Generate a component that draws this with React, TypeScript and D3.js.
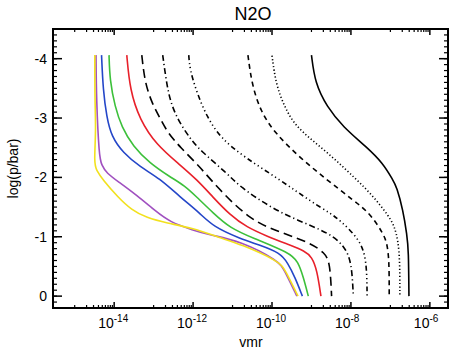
import React from "react";
import * as d3 from "d3";

const width = 463;
const height = 356;
const plot = { left: 53, right: 448, top: 29, bottom: 308 };

// axis values
const yTicks = [0, -1, -2, -3, -4];
const xTickExps = [-14, -12, -10, -8, -6];
const xDomainExp = [-15.55, -5.54];
const yDomain = [0.2, -4.5];

// curves: [log(p/bar), log10(vmr)]
const yellow = [
  [-4.06, -14.49], [-3.3, -14.49], [-2.8, -14.46], [-2.24, -14.51], [-2.12, -14.45],
  [-1.96, -14.29], [-1.67, -13.91], [-1.45, -13.56], [-1.32, -13.18], [-1.23, -12.67],
  [-1.15, -12.01], [-0.98, -11.32], [-0.88, -10.81], [-0.58, -9.8], [-0.44, -9.67], [0, -9.34]
];
const purple = [
  [-4.06, -14.46], [-3.3, -14.45], [-2.35, -14.38], [-2.21, -14.32], [-2.07, -14.19],
  [-1.93, -13.9], [-1.7, -13.43], [-1.42, -12.93], [-1.25, -12.59], [-1.11, -12.0],
  [-1.03, -11.57], [-0.93, -10.81], [-0.59, -9.82], [-0.44, -9.69], [0, -9.37]
];
const blue = [
  [-4.06, -14.32], [-3.47, -14.28], [-3.02, -14.19], [-2.69, -14.07], [-2.41, -13.77],
  [-2.18, -13.35], [-1.98, -12.84], [-1.67, -12.33], [-1.4, -11.83], [-1.17, -11.49],
  [-0.97, -10.81], [-0.86, -10.31], [-0.73, -9.8], [-0.56, -9.6], [-0.32, -9.42], [0, -9.23]
];
const green = [
  [-4.06, -14.13], [-3.64, -14.11], [-3.19, -13.98], [-2.85, -13.81], [-2.52, -13.52],
  [-2.24, -13.1], [-2.01, -12.59], [-1.86, -12.21], [-1.67, -11.91], [-1.4, -11.49],
  [-1.15, -11.07], [-0.98, -10.49], [-0.73, -9.55], [-0.58, -9.34], [-0.33, -9.21], [0, -9.08]
];
const red = [
  [-4.06, -13.68], [-3.47, -13.6], [-2.97, -13.35], [-2.55, -12.93], [-2.21, -12.33],
  [-1.96, -11.9], [-1.67, -11.5], [-1.37, -11.07], [-1.16, -10.64], [-1.01, -10.13],
  [-0.86, -9.55], [-0.76, -9.17], [-0.66, -8.99], [-0.44, -8.86], [0, -8.76]
];
const longDash = [
  [-4.06, -13.3], [-3.59, -13.22], [-3.25, -13.04], [-3.0, -12.84], [-2.75, -12.64],
  [-2.51, -12.33], [-2.18, -11.83], [-1.84, -11.4], [-1.28, -10.56], [-1.08, -9.8],
  [-0.9, -9.04], [-0.73, -8.66], [-0.56, -8.53], [0, -8.49]
];
const dashDot = [
  [-4.06, -12.77], [-3.67, -12.69], [-3.3, -12.59], [-2.97, -12.39], [-2.66, -12.08],
  [-2.46, -11.83], [-2.07, -11.14], [-1.84, -10.81], [-1.5, -10.05], [-1.28, -9.37],
  [-1.06, -8.53], [-0.83, -8.15], [-0.56, -7.98], [0, -7.94]
];
const dashDot3 = [
  [-4.06, -12.11], [-3.81, -12.08], [-3.42, -11.9], [-3.02, -11.65], [-2.66, -11.3],
  [-2.34, -10.7], [-1.96, -9.8], [-1.57, -8.96], [-1.4, -8.53], [-1.28, -8.28],
  [-0.95, -7.77], [-0.61, -7.6], [0, -7.59]
];
const dashed = [
  [-4.06, -10.61], [-3.56, -10.51], [-3.1, -10.28], [-2.75, -9.93], [-2.33, -9.29],
  [-1.96, -8.61], [-1.62, -7.95], [-1.4, -7.52], [-1.06, -7.19], [-0.91, -7.09],
  [-0.61, -7.03], [0, -7.03]
];
const dotted = [
  [-4.05, -10.0], [-3.56, -9.9], [-3.17, -9.67], [-2.88, -9.42], [-2.63, -8.99],
  [-2.34, -8.46], [-2.07, -8.03], [-1.75, -7.52], [-1.33, -7.01], [-1.15, -6.89],
  [-0.95, -6.81], [-0.61, -6.76], [0, -6.76]
];
const solid = [
  [-4.06, -9.0], [-3.59, -8.91], [-3.19, -8.61], [-2.85, -8.2], [-2.51, -7.6],
  [-2.24, -7.19], [-1.96, -6.94], [-1.84, -6.84], [-1.45, -6.68], [-1.03, -6.58],
  [-0.78, -6.54], [0, -6.53]
];

const curves = [
  { data: solid, color: "#000", dash: null },
  { data: dotted, color: "#000", dash: "1.2,2.3" },
  { data: dashed, color: "#000", dash: "5,4" },
  { data: dashDot3, color: "#000", dash: "5,3,1.2,3,1.2,3,1.2,3" },
  { data: dashDot, color: "#000", dash: "6,3,1.2,3" },
  { data: longDash, color: "#000", dash: "9,5" },
  { data: red, color: "#e8202a", dash: null },
  { data: green, color: "#3cc03a", dash: null },
  { data: blue, color: "#2446c8", dash: null },
  { data: purple, color: "#a050c0", dash: null },
  { data: yellow, color: "#f2e11e", dash: null }
];

const font = "'Liberation Sans', Arial, Helvetica, sans-serif";

export default function App() {
  const x = d3
    .scaleLog()
    .domain(xDomainExp.map(e => Math.pow(10, e)))
    .range([plot.left, plot.right]);
  const y = d3.scaleLinear().domain(yDomain).range([plot.bottom, plot.top]);

  const line = d3
    .line<number[]>()
    .x(d => x(Math.pow(10, d[1])))
    .y(d => y(d[0]))
    .curve(d3.curveBasis);

  // minor ticks
  const yMinor = d3.range(-45, 3).map(i => i / 10);
  const xMinor: number[] = [];
  for (let k = -16; k <= -6; k += 2) {
    for (let m = 1; m <= 9; m++) {
      const v = m * Math.pow(10, k + 1);
      const [a, b] = x.domain();
      if (v >= a && v <= b) xMinor.push(v);
    }
  }

  return (
    <div style={{ position: "absolute", left: 0, top: 0 }}>
      <svg width={width} height={height} style={{ display: "block", background: "#fff" }}>
        <defs>
          <clipPath id="plotclip">
            <rect x={plot.left} y={plot.top} width={plot.right - plot.left} height={plot.bottom - plot.top} />
          </clipPath>
        </defs>
        <text x={253} y={20} textAnchor="middle" fontFamily={font} fontSize={18}>
          N2O
        </text>

        <g clipPath="url(#plotclip)">
          {curves.map((c, i) => (
            <path
              key={i}
              d={line(c.data as number[][]) || ""}
              fill="none"
              stroke={c.color}
              strokeWidth={1.6}
              strokeDasharray={c.dash || undefined}
            />
          ))}
        </g>

        {/* y ticks */}
        {yMinor.map(v => {
          const yy = y(v);
          if (yy < plot.top || yy > plot.bottom) return null;
          return (
            <g key={"ym" + v}>
              <line x1={plot.left} x2={plot.left + 4} y1={yy} y2={yy} stroke="#000" strokeWidth={1.2} />
              <line x1={plot.right} x2={plot.right - 4} y1={yy} y2={yy} stroke="#000" strokeWidth={1.2} />
            </g>
          );
        })}
        {yTicks.map(v => (
          <g key={"y" + v}>
            <line x1={plot.left} x2={plot.left + 9} y1={y(v)} y2={y(v)} stroke="#000" strokeWidth={1.5} />
            <line x1={plot.right} x2={plot.right - 9} y1={y(v)} y2={y(v)} stroke="#000" strokeWidth={1.5} />
            <text x={47} y={y(v) + 5} textAnchor="end" fontFamily={font} fontSize={14}>
              {v === 0 ? "0" : "-" + Math.abs(v)}
            </text>
          </g>
        ))}

        {/* x ticks */}
        {xMinor.map((v, i) => (
          <g key={"xm" + i}>
            <line x1={x(v)} x2={x(v)} y1={plot.bottom} y2={plot.bottom - 3} stroke="#000" strokeWidth={1.2} />
            <line x1={x(v)} x2={x(v)} y1={plot.top} y2={plot.top + 3} stroke="#000" strokeWidth={1.2} />
          </g>
        ))}
        {xTickExps.map(e => {
          const xx = x(Math.pow(10, e));
          return (
            <g key={"x" + e}>
              <line x1={xx} x2={xx} y1={plot.bottom} y2={plot.bottom - 6} stroke="#000" strokeWidth={1.5} />
              <line x1={xx} x2={xx} y1={plot.top} y2={plot.top + 6} stroke="#000" strokeWidth={1.5} />
              <text x={xx - 16} y={328} fontFamily={font} fontSize={14}>
                10
                <tspan dy={-6} fontSize={10}>
                  {"-" + Math.abs(e)}
                </tspan>
              </text>
            </g>
          );
        })}

        <rect
          x={plot.left}
          y={plot.top}
          width={plot.right - plot.left}
          height={plot.bottom - plot.top}
          fill="none"
          stroke="#000"
          strokeWidth={2}
        />

        <text x={251} y={347} textAnchor="middle" fontFamily={font} fontSize={14}>
          vmr
        </text>
        <text
          transform={`translate(18, ${(plot.top + plot.bottom) / 2}) rotate(-90)`}
          textAnchor="middle"
          fontFamily={font}
          fontSize={14}
        >
          log(p/bar)
        </text>
      </svg>
    </div>
  );
}
